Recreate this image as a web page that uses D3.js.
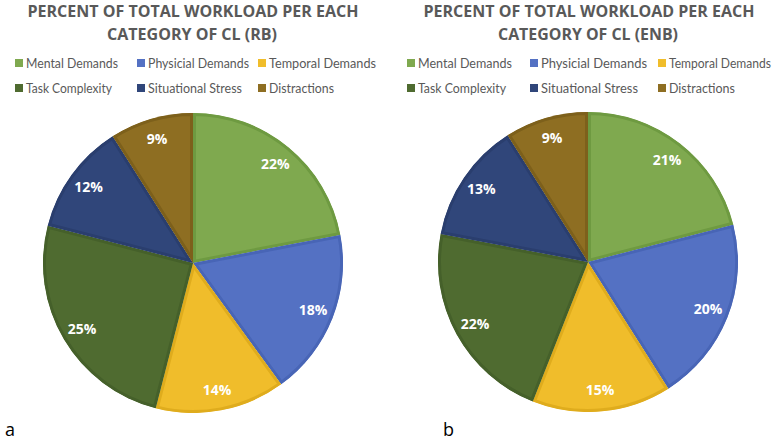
<!DOCTYPE html>
<html><head><meta charset="utf-8">
<script src="https://cdn.jsdelivr.net/npm/d3@7"></script>
<style>html,body{margin:0;padding:0;background:#fff;}</style>
</head><body>
<script>
const categories = ["Mental Demands","Physicial Demands","Temporal Demands","Task Complexity","Situational Stress","Distractions"];
const valuesRB  = [22,18,14,25,12,9];
const valuesENB = [21,20,15,22,13,9];
const titleLine1 = "PERCENT OF TOTAL WORKLOAD PER EACH";
const titlesRB  = [titleLine1, "CATEGORY OF CL (RB)"];
const titlesENB = [titleLine1, "CATEGORY OF CL (ENB)"];
const panelLabels = ["a","b"];

const fills   = ["#7fa94f","#5471c3","#f0bd2b","#4f6b30","#30467a","#8e6e22"];
const borders = ["#6e9a41","#4865b6","#dfac1d","#45602a","#2a3e6e","#7d601b"];

const W = 782, H = 441;
const svg = d3.select("body").append("svg").attr("width",W).attr("height",H);
const defs = svg.append("defs");

const panels = [
  {vals: valuesRB,  titles: titlesRB,  cx:193, cy:263, r:150, tx:193, t1w:331, t2w:170,
   legX:[15,137,258], textW:[[92,101,107],[86,94,65]], label: panelLabels[0], lx:5},
  {vals: valuesENB, titles: titlesENB, cx:588, cy:262, r:150, tx:589, t1w:331, t2w:180,
   legX:[407,530,658], textW:[[94,106,102],[88,97,66]], label: panelLabels[1], lx:443}
];

const pie = d3.pie().sort(null).value(d=>d);

panels.forEach((p,pi)=>{
  const g = svg.append("g");
  g.append("text").attr("x",p.tx).attr("y",17).attr("text-anchor","middle")
    .attr("font-family","'Open Sans', Lato, sans-serif").attr("font-weight","bold")
    .attr("font-size",16.5).attr("fill","#595959")
    .attr("textLength",p.t1w).attr("lengthAdjust","spacingAndGlyphs").text(p.titles[0]);
  g.append("text").attr("x",p.tx-1).attr("y",39.5).attr("text-anchor","middle")
    .attr("font-family","'Open Sans', Lato, sans-serif").attr("font-weight","bold")
    .attr("font-size",16.5).attr("fill","#595959")
    .attr("textLength",p.t2w).attr("lengthAdjust","spacingAndGlyphs").text(p.titles[1]);
  categories.forEach((c,i)=>{
    const row = Math.floor(i/3), col = i%3;
    const y = row===0 ? 63 : 88;
    const x = p.legX[col];
    g.append("rect").attr("x",x).attr("y",y-4).attr("width",8).attr("height",8).attr("fill",fills[i]);
    g.append("text").attr("x",x+11).attr("y",y+4.5)
      .attr("font-family","Lato, sans-serif").attr("font-size",13).attr("fill","#595959")
      .attr("textLength",p.textW[row][col]).attr("lengthAdjust","spacingAndGlyphs").text(c);
  });
  const arc = d3.arc().innerRadius(0).outerRadius(p.r);
  const labelArc = d3.arc().innerRadius(p.r*0.86).outerRadius(p.r*0.86);
  const arcs = pie(p.vals);
  arcs.forEach((a,i)=>{
    const id = `clip${pi}_${i}`;
    defs.append("clipPath").attr("id",id).append("path").attr("d",arc(a))
      .attr("transform",`translate(${p.cx},${p.cy})`);
  });
  arcs.forEach((a,i)=>{
    const sg = g.append("g").attr("clip-path",`url(#clip${pi}_${i})`);
    sg.append("path").attr("transform",`translate(${p.cx},${p.cy})`).attr("d",arc(a))
      .attr("fill",fills[i]).attr("stroke",borders[i]).attr("stroke-width",6);
  });
  const lg = g.append("g").attr("transform",`translate(${p.cx},${p.cy})`);
  arcs.forEach((a,i)=>{
    const [x,y] = labelArc.centroid(a);
    lg.append("text").attr("x",x).attr("y",y).attr("dy","0.35em").attr("text-anchor","middle")
      .attr("font-family","'Open Sans', sans-serif").attr("font-weight","bold").attr("font-size",14)
      .attr("fill","#ffffff").text(a.data+"%");
  });
  g.append("text").attr("x",p.lx).attr("y",436).attr("font-family","'Open Sans', sans-serif")
    .attr("font-size",18).attr("fill","#000").text(p.label);
});
</script>
</body></html>
